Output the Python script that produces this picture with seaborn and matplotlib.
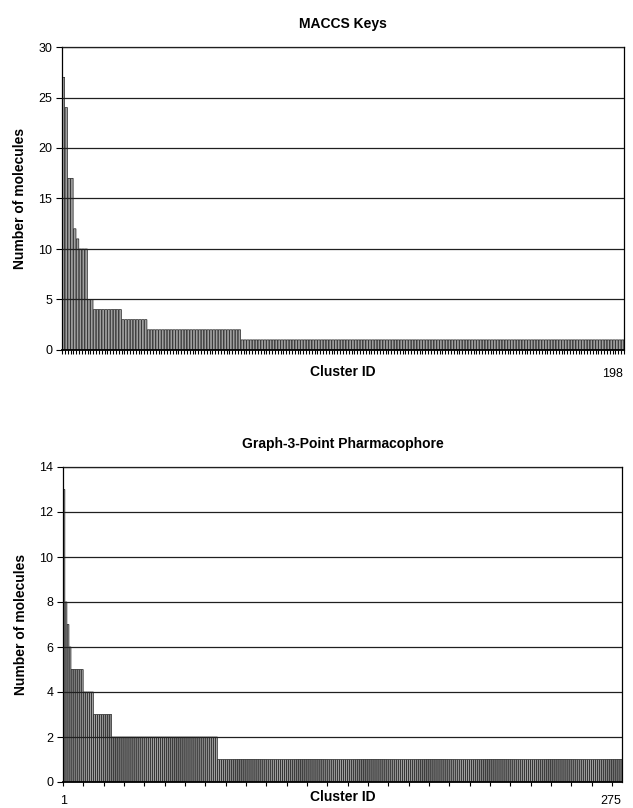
import matplotlib
matplotlib.use('Agg')
import matplotlib.pyplot as plt
import seaborn as sns
import numpy as np
import pandas as pd

sns.set_style('white')
plt.rcParams['font.family'] = ['Liberation Sans', 'DejaVu Sans']
plt.rcParams['text.color'] = 'black'
plt.rcParams['axes.labelcolor'] = 'black'
plt.rcParams['xtick.color'] = 'black'
plt.rcParams['ytick.color'] = 'black'

# MACCS Keys cluster sizes (sorted descending)
maccs_sizes = ([27, 24, 17, 17, 12, 11, 10, 10, 10, 5, 5]
               + [4] * 10 + [3] * 9 + [2] * 33 + [1] * 135)
maccs_ids = list(range(1, len(maccs_sizes) + 1))

# Graph-3-Point Pharmacophore cluster sizes
pharm_sizes = ([13, 8, 7, 6] + [5] * 6 + [4] * 5 + [3] * 9
               + [2] * 52 + [1] * 199)
pharm_ids = list(range(1, len(pharm_sizes) + 1))

panels = [
    dict(title='MACCS Keys', ids=maccs_ids, sizes=maccs_sizes, ymax=30, ystep=5,
         tick_every=1, labels={198: '198'}, tick_pad=13, xlab_y=-0.050,
         rect=[62 / 633, 1 - 350 / 808, 562 / 633, 303 / 808]),
    dict(title='Graph-3-Point Pharmacophore', ids=pharm_ids, sizes=pharm_sizes,
         ymax=14, ystep=2, tick_every=10, labels={1: '1', 275: '275'},
         tick_pad=9.5, xlab_y=-0.024,
         rect=[63 / 633, 1 - 782 / 808, 559 / 633, 315 / 808]),
]

fig = plt.figure(figsize=(6.33, 8.08), dpi=100)

for p in panels:
    ax = fig.add_axes(p['rect'])
    df = pd.DataFrame({'Cluster ID': p['ids'], 'Size': p['sizes']})
    sns.barplot(data=df, x='Cluster ID', y='Size', color='#a0a0a0',
                saturation=1, width=0.85, edgecolor='#111111', linewidth=0.45, ax=ax)
    for patch in ax.patches:
        patch.set_snap(False)
    n = len(p['ids'])
    ax.set_xlim(-0.5, n - 0.5)
    ax.set_ylim(0, p['ymax'])
    yt = np.arange(0, p['ymax'] + 1, p['ystep'])
    ax.set_yticks(yt)
    ax.set_yticklabels([str(v) for v in yt], fontsize=9)
    ax.yaxis.grid(True, color='#202020', linewidth=0.9)
    ax.set_axisbelow(False)

    # tick marks between categories (minor), labels via major ticks
    ax.set_xticks(np.arange(-0.5, n, p['tick_every']), minor=True)
    lab_pos = [k - 1 for k in p['labels']]
    ax.set_xticks(lab_pos)
    ax.set_xticklabels(list(p['labels'].values()), fontsize=9)
    # the last cluster number sits flush with the right edge
    ax.get_xticklabels()[-1].set_horizontalalignment('right')
    ax.tick_params(axis='x', which='major', length=0, pad=p['tick_pad'])
    ax.tick_params(axis='x', which='minor', length=3, width=0.8, color='black',
                   direction='out', bottom=True)
    ax.tick_params(axis='y', length=4, width=0.8, color='black', direction='out',
                   left=True, pad=3)

    for s in ax.spines.values():
        s.set_visible(True)
        s.set_color('black')
        s.set_linewidth(0.9)
    ax.spines['bottom'].set_linewidth(1.3)

    ax.set_title(p['title'], fontsize=10, fontweight='bold', pad=14)
    ax.set_xlabel('Cluster ID', fontsize=10, fontweight='bold')
    ax.xaxis.set_label_coords(0.5, p['xlab_y'])
    ax.set_ylabel('Number of molecules', fontsize=10, fontweight='bold', labelpad=8)

fig.savefig('out.png', dpi=100)
